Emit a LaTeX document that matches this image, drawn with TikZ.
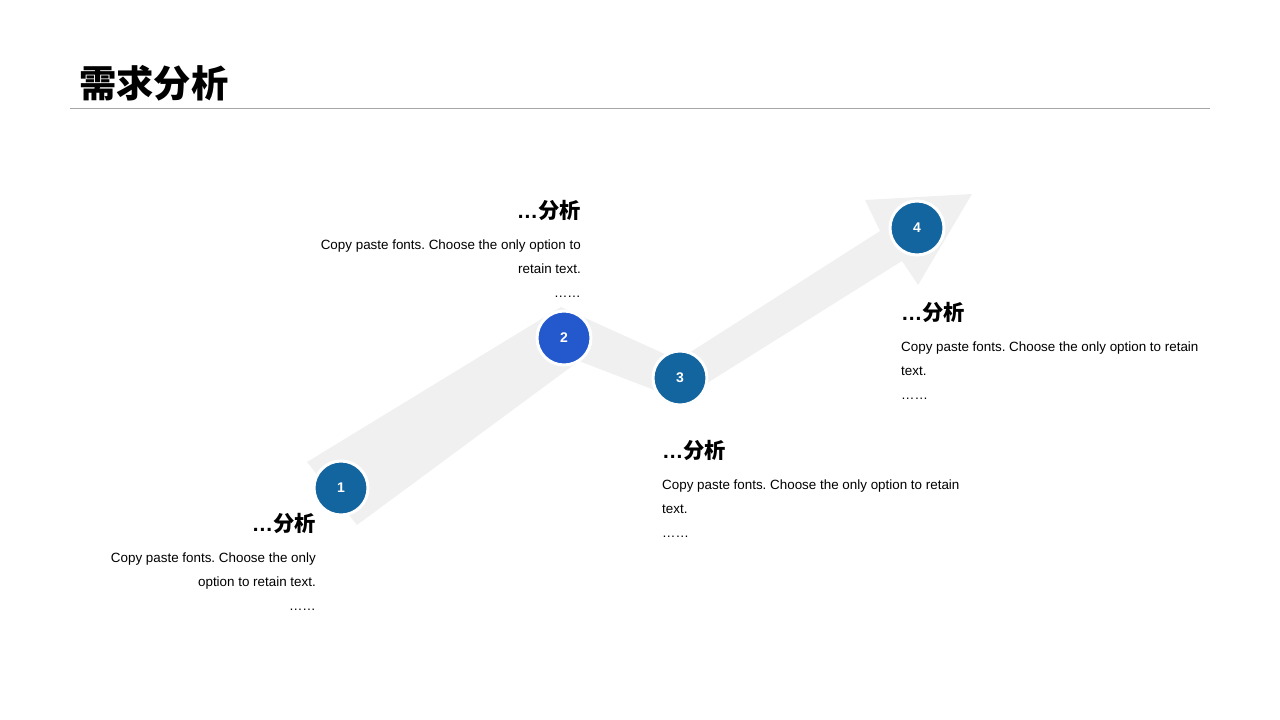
\documentclass[tikz,border=0pt]{standalone}
\usepackage{fontspec}
\setmainfont{Liberation Sans}
\newfontfamily\cjk{Noto Sans CJK SC}
\definecolor{arrowgray}{RGB}{240,240,240}
\definecolor{stepblue}{RGB}{19,101,160}
\definecolor{steproyal}{RGB}{36,89,206}
\definecolor{rulegray}{RGB}{166,166,166}
\frenchspacing

\begin{document}
\begin{tikzpicture}[x=1pt,y=-1pt,
    stepdot/.style={circle,draw=white,line width=3pt,minimum size=54pt,inner sep=0pt,
      text=white,font=\bfseries\fontsize{14}{14}\selectfont},
    headtext/.style={inner sep=0pt,font=\bfseries\fontsize{21.3}{24}\selectfont},
    bodytext/.style={inner sep=0pt,font=\fontsize{13.4}{24}\selectfont}]
  \useasboundingbox (0,0) rectangle (1280,720);
  \node [anchor=base west,inner sep=0pt,font=\cjk\bfseries\fontsize{37.3}{40}\selectfont] (title) at (79,97) {需求分析};
  \draw [rulegray,line width=1pt] (70,108) -- (1210,108);
  % zigzag arrow
  \fill [arrowgray] (307,462) -- (561,307) -- (678,360) -- (880,231) -- (865,200)
    -- (972,194) -- (918,285) -- (902,261) -- (680,400) -- (579,361) -- (357,525) -- cycle;
  \node [stepdot,fill=stepblue] (s1) at (341,488) {1};
  \node [stepdot,fill=steproyal] (s2) at (564,338) {2};
  \node [stepdot,fill=stepblue] (s3) at (680,378) {3};
  \node [stepdot,fill=stepblue] (s4) at (917,228) {4};
  % texts
  \node [headtext,anchor=base east] (h1) at (316,531) {…\cjk 分析};
  \node [bodytext,anchor=north east,align=right] (b1) at (316,553) {Copy paste fonts. Choose the only\\option to retain text.\\……};
  \node [headtext,anchor=base east] (h2) at (581,218) {…\cjk 分析};
  \node [bodytext,anchor=north east,align=right] (b2) at (581,240) {Copy paste fonts. Choose the only option to\\retain text.\\……};
  \node [headtext,anchor=base west] (h3) at (662,458) {…\cjk 分析};
  \node [bodytext,anchor=north west,align=left] (b3) at (662,480) {Copy paste fonts. Choose the only option to retain\\text.\\……};
  \node [headtext,anchor=base west] (h4) at (901,320) {…\cjk 分析};
  \node [bodytext,anchor=north west,align=left] (b4) at (901,342) {Copy paste fonts. Choose the only option to retain\\text.\\……};
\end{tikzpicture}
\end{document}
